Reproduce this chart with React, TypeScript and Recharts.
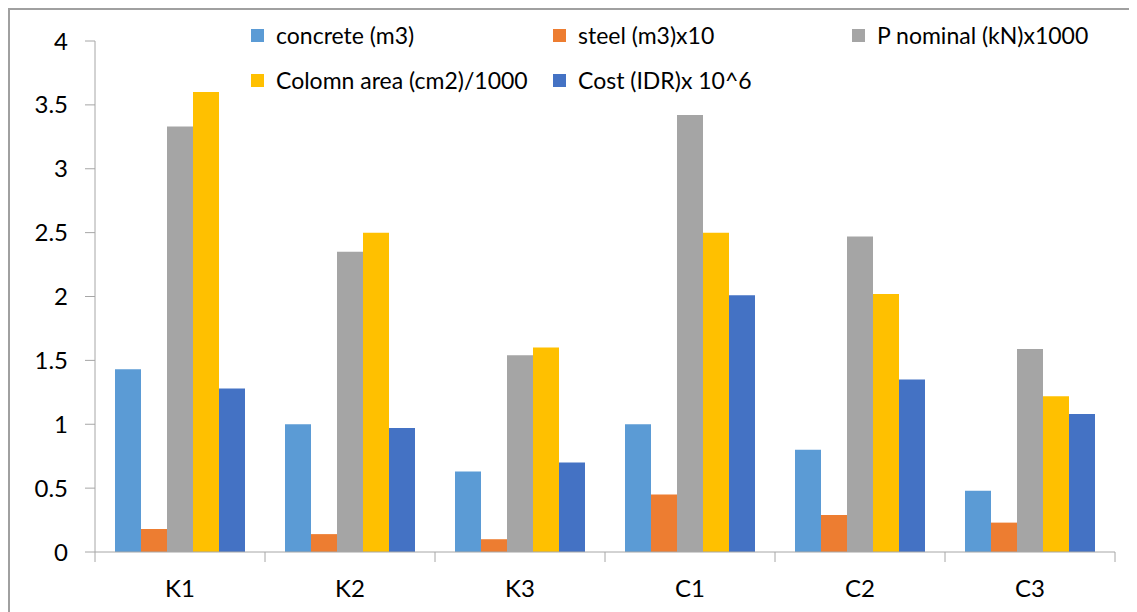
import { BarChart, Bar, XAxis, YAxis, Legend } from "recharts";

const categories = ["K1", "K2", "K3", "C1", "C2", "C3"];
const concrete = [1.43, 1.0, 0.63, 1.0, 0.8, 0.48];
const steel = [0.18, 0.14, 0.1, 0.45, 0.29, 0.23];
const pNominal = [3.33, 2.35, 1.54, 3.42, 2.47, 1.59];
const colomnArea = [3.6, 2.5, 1.6, 2.5, 2.02, 1.22];
const cost = [1.28, 0.97, 0.7, 2.01, 1.35, 1.08];
const yTicks = [0, 0.5, 1, 1.5, 2, 2.5, 3, 3.5, 4];

const series = [
  { key: "concrete", name: "concrete (m3)", color: "#5B9BD5", values: concrete },
  { key: "steel", name: "steel (m3)x10", color: "#ED7D31", values: steel },
  { key: "pNominal", name: "P nominal (kN)x1000", color: "#A5A5A5", values: pNominal },
  { key: "colomnArea", name: "Colomn area (cm2)/1000", color: "#FFC000", values: colomnArea },
  { key: "cost", name: "Cost (IDR)x 10^6", color: "#4472C4", values: cost },
];

const data = categories.map((cat, i) => {
  const row: Record<string, string | number> = { cat };
  series.forEach((s) => (row[s.key] = s.values[i]));
  return row;
});

const FONT = "Lato, 'Open Sans', sans-serif";
const AXIS = "#a6a6a6";

// category labels centered, tick marks on the category boundaries
function BoundaryTick(props: any) {
  const { x, y, payload, index, visibleTicksCount } = props;
  const half = payload?.offset ?? 0;
  const top = y - 8;
  return (
    <g>
      <line x1={x - half} x2={x - half} y1={top} y2={top + 10} stroke={AXIS} />
      {index === visibleTicksCount - 1 && (
        <line x1={x + half} x2={x + half} y1={top} y2={top + 10} stroke={AXIS} />
      )}
      <text x={x} y={top + 39} textAnchor="middle" dominantBaseline="middle" fontSize={24} fill="#000" fontFamily={FONT}>
        {payload.value}
      </text>
    </g>
  );
}

function LegendBox() {
  return (
    <div style={{ display: "grid", gridTemplateColumns: "302px 299px 300px", rowGap: 17, fontFamily: FONT, fontSize: 23, color: "#000" }}>
      {series.map((s) => (
        <div key={s.key} style={{ display: "flex", alignItems: "center", height: 28, whiteSpace: "nowrap" }}>
          <span style={{ width: 13, height: 13, background: s.color, marginRight: 12, display: "inline-block" }} />
          <span>{s.name}</span>
        </div>
      ))}
    </div>
  );
}

export default function App() {
  return (
    <div
      style={{
        width: 1129,
        height: 602,
        borderTop: "2px solid #a0a0a0",
        borderLeft: "2px solid #a0a0a0",
        background: "#fff",
      }}
    >
      <BarChart
        width={1127}
        height={600}
        data={data}
        margin={{ top: 31, right: 22, left: 0, bottom: 0 }}
        barCategoryGap={20}
        barGap={0}
      >
        <XAxis
          dataKey="cat"
          stroke={AXIS}
          tickLine={false}
          height={58}
          interval={0}
          tick={<BoundaryTick />}
        />
        <YAxis
          domain={[0, 4]}
          ticks={yTicks}
          width={85}
          stroke={AXIS}
          tickSize={10}
          tickMargin={17}
          tick={{ fill: "#000", fontSize: 24, fontFamily: FONT }}
        />
        <Legend
          layout="horizontal"
          align="center"
          verticalAlign="middle"
          content={<LegendBox />}
          wrapperStyle={{ position: "absolute", top: 11, left: 241, width: 900, height: 80 }}
        />
        {series.map((s) => (
          <Bar key={s.key} dataKey={s.key} name={s.name} fill={s.color} isAnimationActive={false} />
        ))}
      </BarChart>
    </div>
  );
}
